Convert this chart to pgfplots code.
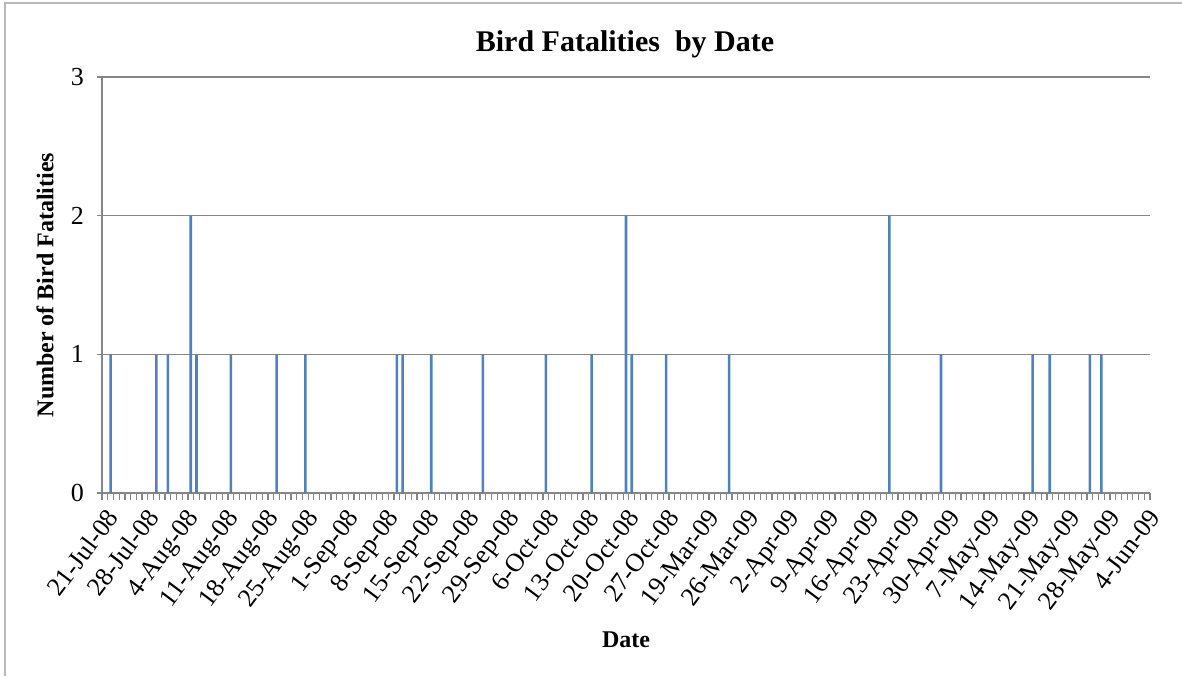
\documentclass[border=0pt]{standalone}
\usepackage{fontspec}
\setmainfont{Liberation Serif}
\usepackage{pgfplots}
\pgfplotsset{compat=1.18}

\definecolor{barblue}{HTML}{4F81BD}
\definecolor{axisgray}{HTML}{868686}

\begin{document}
\begin{tikzpicture}
\path[use as bounding box] (-51pt,-91.5pt) rectangle (540pt,246.5pt);
% chart area frame (only left and top edges are visible)
\draw[gray!55, line width=0.8pt] (-48.5pt,-91.5pt) -- (-48.5pt,245pt) -- (540pt,245pt);

\begin{axis}[
    at={(0,0)}, anchor=south west,
    scale only axis,
    width=524pt, height=208pt,
    ybar, bar width=1.3pt,
    xmin=-0.5, xmax=182.5,
    ymin=0, ymax=3,
    ytick={0,1,2,3},
    xtick={0,7,...,182},
    xticklabels={21-Jul-08,28-Jul-08,4-Aug-08,11-Aug-08,18-Aug-08,25-Aug-08,
        1-Sep-08,8-Sep-08,15-Sep-08,22-Sep-08,29-Sep-08,6-Oct-08,13-Oct-08,
        20-Oct-08,27-Oct-08,19-Mar-09,26-Mar-09,2-Apr-09,9-Apr-09,16-Apr-09,
        23-Apr-09,30-Apr-09,7-May-09,14-May-09,21-May-09,28-May-09,4-Jun-09},
    minor xtick={-0.5,0.5,...,182.5},
    major x tick style={draw=none},
    tick align=outside,
    major tick length=2.5pt,
    minor tick length=3.5pt,
    tick style={axisgray, line width=0.6pt},
    axis x line*=bottom,
    axis y line*=left,
    axis line style={-, axisgray, line width=1pt},
    ymajorgrids,
    grid style={axisgray, line width=0.7pt},
    /pgf/number format/assume math mode=true,
    yticklabel style={font=\fontsize{13}{15}\selectfont, xshift=-3pt},
    xticklabel style={font=\fontsize{13}{15}\selectfont, rotate=53, anchor=north east, inner sep=1pt},
    xticklabel shift=3pt,
]
\addplot[fill=barblue, draw=none] coordinates {
    (1,1) (9,1) (11,1) (15,2) (16,1) (22,1) (30,1) (35,1)
    (51,1) (52,1) (57,1) (66,1) (77,1) (85,1) (91,2) (92,1)
    (98,1) (109,1) (137,2) (146,1) (162,1) (165,1) (172,1) (174,1)
};
\end{axis}

\node[font=\fontsize{15}{18}\selectfont\bfseries] at (261.5pt,224.5pt) {Bird Fatalities\ \ by Date};
\node[font=\fontsize{12}{14}\selectfont\bfseries, rotate=90] at (-28.5pt,104pt) {Number of Bird Fatalities};
\node[font=\fontsize{12}{14}\selectfont\bfseries] at (262pt,-73.5pt) {Date};
\end{tikzpicture}
\end{document}
